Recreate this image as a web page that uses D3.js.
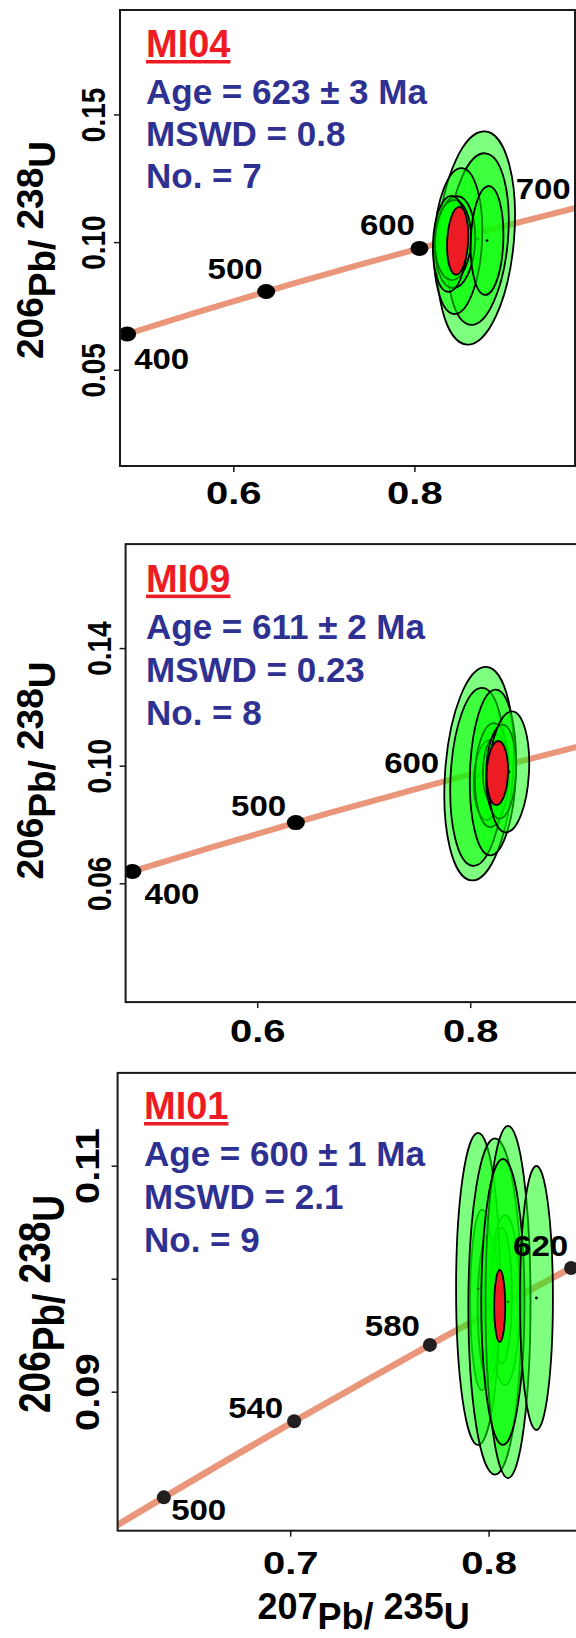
<!DOCTYPE html>
<html>
<head>
<meta charset="utf-8">
<script src="https://cdn.jsdelivr.net/npm/d3@7"></script>
<style>
  html, body { margin: 0; padding: 0; background: #fff; }
  svg { display: block; font-family: "Liberation Sans", Arial, sans-serif; font-weight: bold; }
</style>
</head>
<body>
<svg id="chart" width="576" height="1638"></svg>
<script>
// concordia curve: age (Ma), 207Pb/235U, 206Pb/238U
var concAges = [300, 350, 400, 450, 500, 520, 540, 560, 580, 600, 620, 640, 700, 750];
var concX = [0.3437, 0.4116, 0.4828, 0.5577, 0.6363, 0.6688, 0.7020, 0.7359, 0.7704, 0.8056, 0.8416, 0.8782, 0.9925, 1.0931];
var concY = [0.04764, 0.05580, 0.06402, 0.07230, 0.08065, 0.08401, 0.08738, 0.09075, 0.09414, 0.09754, 0.10095, 0.10438, 0.11470, 0.12338];

// samples, top to bottom
var sampleNames = ['MI04', 'MI09', 'MI01'];
var sampleAges = ['623 ± 3', '611 ± 2', '600 ± 1'];
var sampleMswd = ['0.8', '0.23', '2.1'];
var sampleCount = [7, 8, 9];

// axis limits and ticks
var xLim = [[0.47487, 0.97736], [0.47643, 0.94066], [0.6130, 0.86623]];
var yLim = [[0.01233, 0.19088], [0.01959, 0.17537], [0.07770, 0.11821]];
var xTicks = [[0.6, 0.8], [0.6, 0.8], [0.7, 0.8]];
var yTicks = [[0.05, 0.10, 0.15], [0.06, 0.10, 0.14], [0.09, 0.10, 0.11]];
var yTickLabels = [['0.05', '0.10', '0.15'], ['0.06', '0.10', '0.14'], ['0.09', '', '0.11']];

// labelled ages on the concordia
var ageMarks = [[400, 500, 600, 700], [400, 500, 600], [500, 540, 580, 620]];
var ageDots = [[400, 500, 600, 700], [400, 500], [500, 540, 580, 620]];

// error ellipses (centre x, centre y, half width, half height, tilt in degrees)
var mi04X  = [0.8680, 0.8702, 0.8482, 0.8449, 0.8426, 0.8393, 0.8802];
var mi04Y  = [0.1016, 0.1012, 0.1004, 0.1000, 0.1008, 0.0993, 0.1006];
var mi04SX = [0.0420, 0.0331, 0.0265, 0.0221, 0.0199, 0.0188, 0.0180];
var mi04SY = [0.0419, 0.0337, 0.0286, 0.0180, 0.0157, 0.0188, 0.0213];
var mi04T  = [5, 5, 3, 3, 2, 2, 2];

var mi09X  = [0.8083, 0.8070, 0.8167, 0.8205, 0.8240, 0.8214, 0.8290, 0.8364];
var mi09Y  = [0.0973, 0.0962, 0.0951, 0.0968, 0.0985, 0.0977, 0.0980, 0.0979];
var mi09SX = [0.0319, 0.0254, 0.0131, 0.0160, 0.0120, 0.0216, 0.0140, 0.0188];
var mi09SY = [0.0364, 0.0303, 0.0136, 0.0177, 0.0120, 0.0282, 0.0160, 0.0206];
var mi09T  = [4, 3, 2, 2, 2, 2, 2, 3];

var mi01X  = [0.7967, 0.8082, 0.8067, 0.8000, 0.7947, 0.8032, 0.8098, 0.8072, 0.8241];
var mi01Y  = [0.09811, 0.09811, 0.0985, 0.0975, 0.09909, 0.09754, 0.09794, 0.09794, 0.09829];
var mi01SX = [0.0060, 0.00756, 0.0050, 0.0055, 0.0111, 0.0134, 0.01134, 0.01089, 0.00832];
var mi01SY = [0.0080, 0.00752, 0.0060, 0.0065, 0.01381, 0.01487, 0.01558, 0.01265, 0.01168];
var mi01T  = [0, 0, 0, 0, 0, 0, 0, 0, 0];

// concordia age ellipse (x, y, half width, half height, tilt)
var meanX  = [0.8478, 0.8255, 0.8056];
var meanY  = [0.1005, 0.0975, 0.09758];
var meanSX = [0.0116, 0.0100, 0.00277];
var meanSY = [0.0133, 0.0109, 0.00319];
var meanT  = [3, 2, 0];

var ellX = [mi04X, mi09X, mi01X], ellY = [mi04Y, mi09Y, mi01Y],
    ellSX = [mi04SX, mi09SX, mi01SX], ellSY = [mi04SY, mi09SY, mi01SY],
    ellT = [mi04T, mi09T, mi01T];

// page layout in pixels
var frames = [
    {left: 120, right: 575, top: 10, bottom: 466, textX: 146, nameY: 57, lineY: [104, 146, 188.4],
     titleX: 43, titleY: 250, titleSx: 1, xLabOff: 38, yLabOff: -15, yLabSize: 28, yLabSx: 1.2,
     dotRx: 9, dotRy: 7.5, dotFill: '#000', lineW: 6},
    {left: 125.6, right: 620, top: 544.1, bottom: 1002.1, textX: 146, nameY: 591.6, lineY: [638.8, 681.8, 724.9],
     titleX: 43, titleY: 770.5, titleSx: 1, xLabOff: 40, yLabOff: -15, yLabSize: 28, yLabSx: 1.2,
     dotRx: 9, dotRy: 7.5, dotFill: '#000', lineW: 6},
    {left: 117.6, right: 620, top: 1072.9, bottom: 1530.7, textX: 144, nameY: 1119, lineY: [1166, 1209, 1251.7],
     titleX: 50, titleY: 1304, titleSx: 1.2, xLabOff: 43, yLabOff: -18.6, yLabSize: 40, yLabSx: 0.85,
     dotRx: 7, dotRy: 7, dotFill: '#231f20', lineW: 6.5}
];
// where each age label sits relative to its point
var ageLabelPos = [
    [['start', 7, 35], ['end', -3.6, -13], ['end', -4.5, -13], ['end', -18, -5.6]],
    [['start', 12, 32.8], ['end', -9.7, -6.3], ['end', -37, 0]],
    [['start', 7.3, 23], ['end', -11, -3.7], ['end', -10, -8.5], ['end', -3, -12]]
];

var svg = d3.select('#chart');

function drawPanel(i) {
    var F = frames[i],
        g = svg.append('g'),
        x = d3.scaleLinear().domain(xLim[i]).range([F.left, F.right]),
        y = d3.scaleLinear().domain(yLim[i]).range([F.bottom, F.top]);

    var clipId = 'clip' + i;
    svg.append('clipPath').attr('id', clipId)
        .append('rect')
        .attr('x', F.left).attr('y', F.top)
        .attr('width', F.right - F.left).attr('height', F.bottom - F.top);

    var plot = g.append('g').attr('clip-path', 'url(#' + clipId + ')');

    // concordia
    var pts = concAges.map(function(a, k) { return [concX[k], concY[k]]; });
    plot.append('path')
        .datum(pts)
        .attr('fill', 'none')
        .attr('stroke', '#e9967a')
        .attr('stroke-width', F.lineW)
        .attr('d', d3.line().x(function(d) { return x(d[0]); }).y(function(d) { return y(d[1]); })
            .curve(d3.curveMonotoneX));

    plot.selectAll('.agedot')
        .data(ageDots[i])
        .enter().append('ellipse')
        .attr('cx', function(a) { return x(concX[concAges.indexOf(a)]); })
        .attr('cy', function(a) { return y(concY[concAges.indexOf(a)]); })
        .attr('rx', F.dotRx).attr('ry', F.dotRy)
        .attr('fill', F.dotFill);

    // analyses
    ellX[i].forEach(function(cx, k) {
        var px = x(cx), py = y(ellY[i][k]);
        plot.append('ellipse')
            .attr('cx', px).attr('cy', py)
            .attr('rx', x(cx + ellSX[i][k]) - px)
            .attr('ry', py - y(ellY[i][k] + ellSY[i][k]))
            .attr('transform', 'rotate(' + ellT[i][k] + ',' + px + ',' + py + ')')
            .attr('fill', '#00ff00').attr('fill-opacity', 0.5)
            .attr('stroke', '#000').attr('stroke-width', 1.8);
        plot.append('circle').attr('cx', px).attr('cy', py).attr('r', 1.4).attr('fill', '#000');
    });

    // concordia age
    var mx = x(meanX[i]), my = y(meanY[i]);
    plot.append('ellipse')
        .attr('cx', mx).attr('cy', my)
        .attr('rx', x(meanX[i] + meanSX[i]) - mx)
        .attr('ry', my - y(meanY[i] + meanSY[i]))
        .attr('transform', 'rotate(' + meanT[i] + ',' + mx + ',' + my + ')')
        .attr('fill', '#ed1c24')
        .attr('stroke', '#000').attr('stroke-width', 1.8);

    // age labels
    g.selectAll('.agelab')
        .data(ageMarks[i])
        .enter().append('text')
        .attr('transform', function(a, k) {
            var p = ageLabelPos[i][k],
                idx = concAges.indexOf(a);
            return 'translate(' + (x(concX[idx]) + p[1]) + ',' + (y(concY[idx]) + p[2]) + ') scale(1.1,1)';
        })
        .attr('text-anchor', function(a, k) { return ageLabelPos[i][k][0]; })
        .style('font-size', '30px')
        .attr('fill', '#000')
        .text(function(a) { return a; });

    // frame
    g.append('rect')
        .attr('x', F.left).attr('y', F.top)
        .attr('width', F.right - F.left).attr('height', F.bottom - F.top)
        .attr('fill', 'none').attr('stroke', '#1a1a1a').attr('stroke-width', 2);

    // axes
    var gy = g.append('g')
        .attr('transform', 'translate(' + F.left + ',0)')
        .call(d3.axisLeft(y).tickValues(yTicks[i]).tickSize(6)
            .tickFormat(function(d, j) { return yTickLabels[i][j]; }));
    gy.attr('font-size', null).attr('font-family', null);
    gy.select('.domain').remove();
    gy.selectAll('.tick line').attr('stroke', '#1a1a1a').attr('stroke-width', 1.5);
    gy.selectAll('.tick text')
        .attr('x', null).attr('dy', null)
        .attr('transform', 'translate(' + F.yLabOff + ',0) scale(' + F.yLabSx + ',1) rotate(-90)')
        .attr('text-anchor', 'middle')
        .attr('fill', '#000')
        .style('font-size', F.yLabSize + 'px');

    var gx = g.append('g')
        .attr('transform', 'translate(0,' + F.bottom + ')')
        .call(d3.axisBottom(x).tickValues(xTicks[i]).tickSize(6).tickFormat(d3.format('.1f')));
    gx.attr('font-size', null).attr('font-family', null);
    gx.select('.domain').remove();
    gx.selectAll('.tick line').attr('stroke', '#1a1a1a').attr('stroke-width', 1.5);
    gx.selectAll('.tick text')
        .attr('y', null).attr('dy', null)
        .attr('transform', 'translate(0,' + F.xLabOff + ') scale(1.25,1)')
        .attr('text-anchor', 'middle')
        .attr('fill', '#000')
        .style('font-size', '32px');

    // y title
    var yt = g.append('text')
        .attr('transform', 'translate(' + F.titleX + ',' + F.titleY + ') scale(' + F.titleSx + ',1) rotate(-90)')
        .attr('text-anchor', 'middle')
        .style('font-size', '37px')
        .attr('fill', '#000');
    yt.append('tspan').text('206');
    yt.append('tspan').attr('dy', 12).text('Pb/');
    yt.append('tspan').attr('dy', -12).text(' 238');
    yt.append('tspan').attr('dy', 12).text('U');

    // sample name and result
    var nm = g.append('text')
        .attr('x', F.textX).attr('y', F.nameY)
        .style('font-size', '38px')
        .attr('fill', '#ed1c24')
        .text(sampleNames[i]);
    var w = nm.node().getComputedTextLength();
    g.append('rect')
        .attr('x', F.textX).attr('y', F.nameY + 3)
        .attr('width', w).attr('height', 3.5)
        .attr('fill', '#ed1c24');

    var lines = ['Age = ' + sampleAges[i] + ' Ma', 'MSWD = ' + sampleMswd[i], 'No. = ' + sampleCount[i]];
    g.selectAll('.stat')
        .data(lines)
        .enter().append('text')
        .attr('x', F.textX)
        .attr('y', function(d, k) { return F.lineY[k]; })
        .style('font-size', '35px')
        .attr('fill', '#2e3192')
        .text(function(d) { return d; });
}

[0, 1, 2].forEach(drawPanel);

// x title, bottom panel only
var xt = svg.append('text')
    .attr('x', 363.6).attr('y', 1619)
    .attr('text-anchor', 'middle')
    .style('font-size', '36px')
    .attr('fill', '#000');
xt.append('tspan').text('207');
xt.append('tspan').attr('dy', 10).text('Pb/');
xt.append('tspan').attr('dy', -10).text(' 235');
xt.append('tspan').attr('dy', 10).text('U');
</script>
</body>
</html>
